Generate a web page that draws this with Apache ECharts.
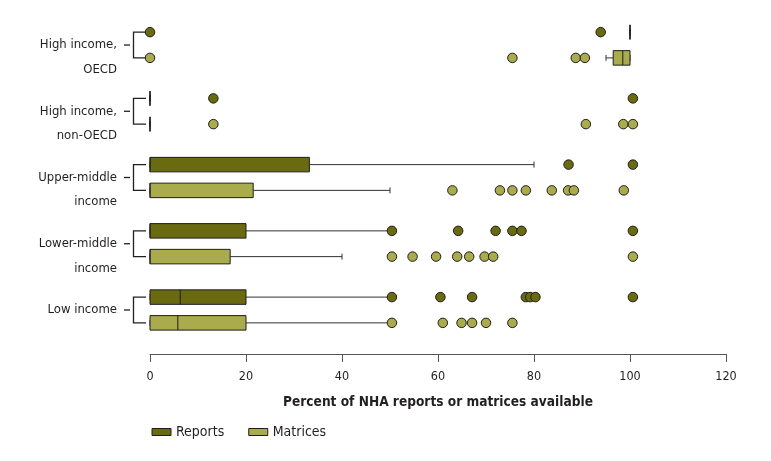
<!DOCTYPE html>
<html>
<head>
<meta charset="utf-8">
<script src="https://cdn.jsdelivr.net/npm/echarts@6/dist/echarts.min.js"></script>
<style>
  html, body { margin: 0; padding: 0; background: #fff; }
  #chart { width: 771px; height: 461px; }
</style>
</head>
<body>
<div id="chart"></div>
<script>
// ---------------- DATA ----------------
const GROUPS = ['High income,\nOECD', 'High income,\nnon-OECD', 'Upper-middle\nincome', 'Lower-middle\nincome', 'Low income'];
const SERIES_NAMES = ['Reports', 'Matrices'];
// box stats per group: [min, Q1, median, Q3, max]
const reportsBox = [
  [100, 100, 100, 100, 100],
  [0, 0, 0, 0, 0],
  [0, 0, 0, 33.2, 80],
  [0, 0, 0, 20, 50.4],
  [0, 0, 6.3, 20, 50.4]
];
const matricesBox = [
  [95, 96.5, 98.5, 100, 100],
  [0, 0, 0, 0, 0],
  [0, 0, 0, 21.5, 50],
  [0, 0, 0, 16.7, 40],
  [0, 0, 5.8, 20, 50.4]
];
// outside values per group
const reportsOut = [
  [0, 93.9],
  [13.2, 100.6],
  [87.2, 100.6],
  [50.4, 64.2, 72.0, 75.5, 77.4, 100.6],
  [50.4, 60.5, 67.1, 78.3, 79.2, 80.3, 100.6]
];
const matricesOut = [
  [0, 75.5, 88.7, 90.6],
  [13.2, 90.8, 98.6, 100.6],
  [63.0, 72.9, 75.5, 78.3, 83.7, 87.1, 88.3, 98.7],
  [50.4, 54.7, 59.6, 64.0, 66.5, 69.7, 71.5, 100.6],
  [50.4, 61.0, 64.9, 67.1, 70.0, 75.5]
];
const X_MIN = 0, X_MAX = 120, X_STEP = 20;
const X_TITLE = 'Percent of NHA reports or matrices available';

// ---------------- STYLE / LAYOUT ----------------
const C_REP = '#6a6b10';
const C_MAT = '#a9ab4c';
const INK = '#231f20';
const FONT = "'DejaVu Sans Condensed', 'Liberation Sans Narrow', 'DejaVu Sans', sans-serif";
const SLOTS = 18;           // fine slots per group on hidden axis
const REP_SLOT = 5, MAT_SLOT = 12;
const BOX_H = 14.5, CAP = 3;

const fineCats = Array.from({ length: GROUPS.length * SLOTS }, (_, i) => String(i));
const rowCat = (g, m) => g * SLOTS + (m ? MAT_SLOT : REP_SLOT);

function boxData(stats, m) {
  return stats.map((s, g) => [rowCat(g, m)].concat(s));
}
function outData(list, m) {
  const out = [];
  list.forEach((vals, g) => vals.forEach(v => out.push([v, rowCat(g, m)])));
  return out;
}

function boxRender(color) {
  return function (params, api) {
    const cat = api.value(0);
    const p = [1, 2, 3, 4, 5].map(d => api.coord([api.value(d), cat]));
    const y = p[0][1];
    const h = BOX_H / 2;
    const ln = (x1, y1, x2, y2, c) => ({
      type: 'line', shape: { x1, y1, x2, y2 },
      style: { stroke: c || '#333', lineWidth: 1 }
    });
    const children = [];
    children.push(ln(p[0][0], y, p[1][0], y));
    children.push(ln(p[3][0], y, p[4][0], y));
    children.push(ln(p[0][0], y - CAP, p[0][0], y + CAP));
    children.push(ln(p[4][0], y - CAP, p[4][0], y + CAP));
    children.push({
      type: 'rect',
      shape: { x: p[1][0], y: y - h, width: p[3][0] - p[1][0], height: 2 * h },
      style: { fill: color, stroke: '#1e1e1e', lineWidth: 1 }
    });
    children.push(ln(p[2][0], y - h, p[2][0], y + h, '#1e1e1e'));
    return { type: 'group', children };
  };
}

function bracketRender(params, api) {
  const a = api.coord([api.value(0), api.value(1)]);
  const b = api.coord([api.value(0), api.value(2)]);
  const x0 = a[0];
  const vx = x0 - 16.5, tx = x0 - 4;
  const mid = (a[1] + b[1]) / 2;
  const st = { stroke: INK, lineWidth: 1.3 };
  return {
    type: 'group',
    children: [
      { type: 'polyline', shape: { points: [[tx, a[1]], [vx, a[1]], [vx, b[1]], [tx, b[1]]] }, style: Object.assign({ fill: null }, st) },
      { type: 'line', shape: { x1: x0 - 26, y1: mid, x2: x0 - 20, y2: mid }, style: st }
    ]
  };
}

const chart = echarts.init(document.getElementById('chart'), null, { renderer: 'canvas' });
chart.setOption({
  animation: false,
  backgroundColor: '#fff',
  textStyle: { fontFamily: FONT },
  grid: { left: 150, right: 45, top: 11.9, bottom: 117.9, containLabel: false },
  legend: {
    left: 146.5, top: 420, padding: 5,
    itemWidth: 19, itemHeight: 7, itemGap: 24,
    textStyle: { fontSize: 14, color: INK, fontFamily: FONT },
    data: [
      { name: SERIES_NAMES[0], icon: 'rect', itemStyle: { color: C_REP, borderColor: '#1e1e1e', borderWidth: 1 } },
      { name: SERIES_NAMES[1], icon: 'rect', itemStyle: { color: C_MAT, borderColor: '#1e1e1e', borderWidth: 1 } }
    ],
    selectedMode: false
  },
  xAxis: {
    type: 'value', min: X_MIN, max: X_MAX, interval: X_STEP,
    offset: 10.9,
    axisLine: { show: true, lineStyle: { color: '#555', width: 1 } },
    axisTick: { show: true, length: 8, lineStyle: { color: '#555' } },
    axisLabel: { fontSize: 12.5, color: INK, margin: 16, fontFamily: FONT },
    splitLine: { show: false },
    name: X_TITLE, nameLocation: 'middle', nameGap: 41,
    nameTextStyle: { fontSize: 13.6, fontWeight: 'bold', color: INK, fontFamily: FONT }
  },
  yAxis: [
    {
      type: 'category', data: fineCats, inverse: true, show: false
    },
    {
      type: 'category', data: GROUPS, inverse: true, position: 'left',
      axisLine: { show: false }, axisTick: { show: false },
      axisLabel: {
        interval: 0, hideOverlap: false,
        margin: 33, fontSize: 13, lineHeight: 24.5, color: INK, fontFamily: FONT,
        formatter: v => (v.indexOf('\n') >= 0 ? '\n' + v : v)
      }
    }
  ],
  series: [
    {
      type: 'custom', name: 'brackets', silent: true, yAxisIndex: 0,
      renderItem: bracketRender, encode: { x: 0, y: [1, 2] },
      data: GROUPS.map((_, g) => [X_MIN, rowCat(g, false), rowCat(g, true)]),
      z: 1
    },
    {
      type: 'custom', name: SERIES_NAMES[0], yAxisIndex: 0,
      renderItem: boxRender(C_REP), encode: { y: 0, x: [1, 2, 3, 4, 5] },
      itemStyle: { color: C_REP },
      data: boxData(reportsBox, false), z: 2
    },
    {
      type: 'custom', name: SERIES_NAMES[1], yAxisIndex: 0,
      renderItem: boxRender(C_MAT), encode: { y: 0, x: [1, 2, 3, 4, 5] },
      itemStyle: { color: C_MAT },
      data: boxData(matricesBox, true), z: 2
    },
    {
      type: 'scatter', name: SERIES_NAMES[0], yAxisIndex: 0,
      symbolSize: 9.5,
      itemStyle: { color: C_REP, borderColor: '#1e1e1e', borderWidth: 1, opacity: 1 },
      data: outData(reportsOut, false), z: 3
    },
    {
      type: 'scatter', name: SERIES_NAMES[1], yAxisIndex: 0,
      symbolSize: 9.5,
      itemStyle: { color: C_MAT, borderColor: '#1e1e1e', borderWidth: 1, opacity: 1 },
      data: outData(matricesOut, true), z: 3
    }
  ]
});
</script>
</body>
</html>
